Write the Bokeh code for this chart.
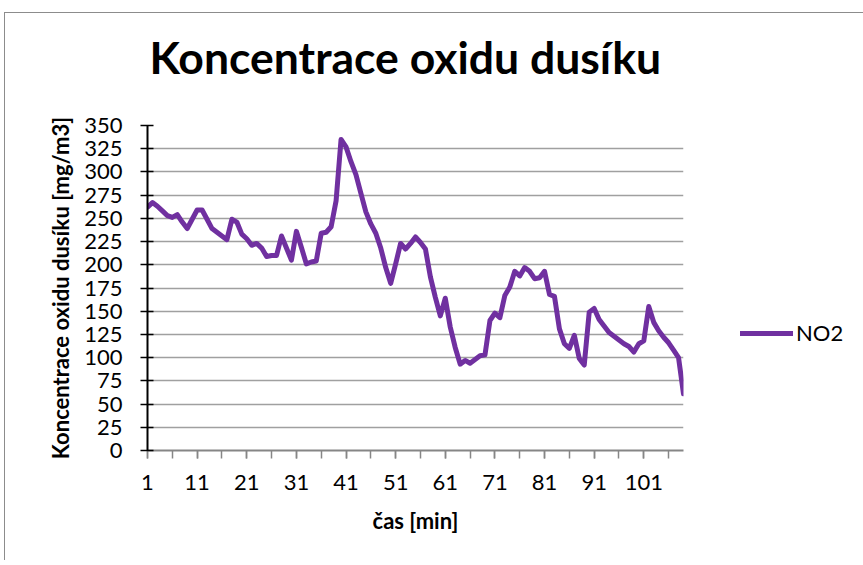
from bokeh.plotting import figure
from bokeh.models import FixedTicker, Legend, LegendItem, Title
from bokeh.embed import file_html
from bokeh.resources import INLINE

# ---- data ----
minutes = list(range(1, 110))
no2 = [262, 267, 263, 258, 253, 251, 254, 246, 239, 249,
       259, 259, 249, 239, 235, 231, 227, 249, 246, 233,
       228, 221, 223, 218, 209, 210, 210, 231, 218, 205,
       236, 219, 201, 203, 204, 234, 235, 241, 269, 335,
       327, 311, 297, 277, 257, 244, 234, 218, 197, 180,
       201, 223, 217, 223, 230, 224, 217, 187, 165, 145,
       164, 133, 111, 93, 97, 94, 98, 102, 103, 140,
       148, 143, 167, 176, 193, 188, 197, 193, 185, 186,
       193, 168, 166, 131, 115, 110, 124, 99, 92, 149,
       153, 141, 134, 127, 123, 119, 115, 112, 106, 115,
       118, 155, 138, 129, 122, 116, 108, 100, 61]
y_ticks = list(range(0, 351, 25))
x_label_ticks = list(range(1, 102, 10))
x_minor_ticks = list(range(1, 107, 5))
series_name = "NO2"
title_text = "Koncentrace oxidu dusíku"
x_title = "čas [min]"
y_title = "Koncentrace oxidu dusíku [mg/m3]"

FONT = "Lato"
PURPLE = "#7030A0"
GRID = "#a0a0a0"
AXIS_GRAY = "#868686"

p = figure(frame_width=536, frame_height=325,
           min_border_left=142, min_border_right=175,
           min_border_top=112, min_border_bottom=110,
           x_range=(1, 109), y_range=(0, 350),
           output_backend="svg", toolbar_location=None,
           title=None)

p.styles = {"margin-left": "4px", "margin-top": "12px",
            "border-left": "1px solid #8c8c8c",
            "border-top": "1px solid #8c8c8c"}

p.outline_line_color = None
p.background_fill_color = "white"
p.border_fill_color = "white"

# spacer between frame and title, then the title itself
spacer = Title(text=" ", text_font_size="1px", standoff=40)
p.add_layout(spacer, "above")
main_title = Title(text=title_text, text_font=FONT, text_font_size="44.5px",
                   text_font_style="bold", text_color="black",
                   align="left", offset=2, standoff=0)
p.add_layout(main_title, "above")

# grid
p.xgrid.visible = False
p.ygrid.ticker = FixedTicker(ticks=y_ticks)
p.ygrid.grid_line_color = GRID
p.ygrid.grid_line_width = 1.5

# y axis
ya = p.yaxis[0]
ya.ticker = FixedTicker(ticks=y_ticks, minor_ticks=[])
ya.axis_line_color = "black"
ya.axis_line_width = 2
ya.major_tick_line_color = "black"
ya.major_tick_line_width = 1.5
ya.major_tick_out = 7
ya.major_tick_in = 6
ya.minor_tick_line_color = None
ya.major_label_text_font = FONT
ya.major_label_text_font_size = "22px"
ya.major_label_text_color = "black"
ya.major_label_standoff = 18
ya.axis_label = y_title
ya.axis_label_text_font = FONT
ya.axis_label_text_font_size = "22px"
ya.axis_label_text_font_style = "bold"
ya.axis_label_text_color = "black"
ya.axis_label_standoff = 7

# x axis
xa = p.xaxis[0]
xa.ticker = FixedTicker(ticks=x_label_ticks, minor_ticks=x_minor_ticks)
xa.axis_line_color = AXIS_GRAY
xa.axis_line_width = 2
xa.major_tick_line_color = AXIS_GRAY
xa.major_tick_line_width = 1.5
xa.major_tick_out = 8
xa.major_tick_in = 0
xa.minor_tick_line_color = AXIS_GRAY
xa.minor_tick_line_width = 1.5
xa.minor_tick_out = 8
xa.minor_tick_in = 0
xa.major_label_text_font = FONT
xa.major_label_text_font_size = "22px"
xa.major_label_text_color = "black"
xa.major_label_standoff = 16
xa.axis_label = x_title
xa.axis_label_text_font = FONT
xa.axis_label_text_font_size = "22px"
xa.axis_label_text_font_style = "bold"
xa.axis_label_text_color = "black"
xa.axis_label_standoff = 14

r = p.line(minutes, no2, line_color=PURPLE, line_width=5,
           line_join="round", line_cap="round")

legend = Legend(items=[LegendItem(label=series_name, renderers=[r])],
                location=(57, 104))
legend.border_line_color = None
legend.background_fill_alpha = 0
legend.padding = 0
legend.margin = 0
legend.glyph_width = 53
legend.glyph_height = 20
legend.label_height = 20
legend.label_standoff = 3
legend.label_text_font = FONT
legend.label_text_font_size = "22px"
legend.label_text_color = "black"
p.add_layout(legend, "right")

open("out.html", "w").write(file_html(p, INLINE))
